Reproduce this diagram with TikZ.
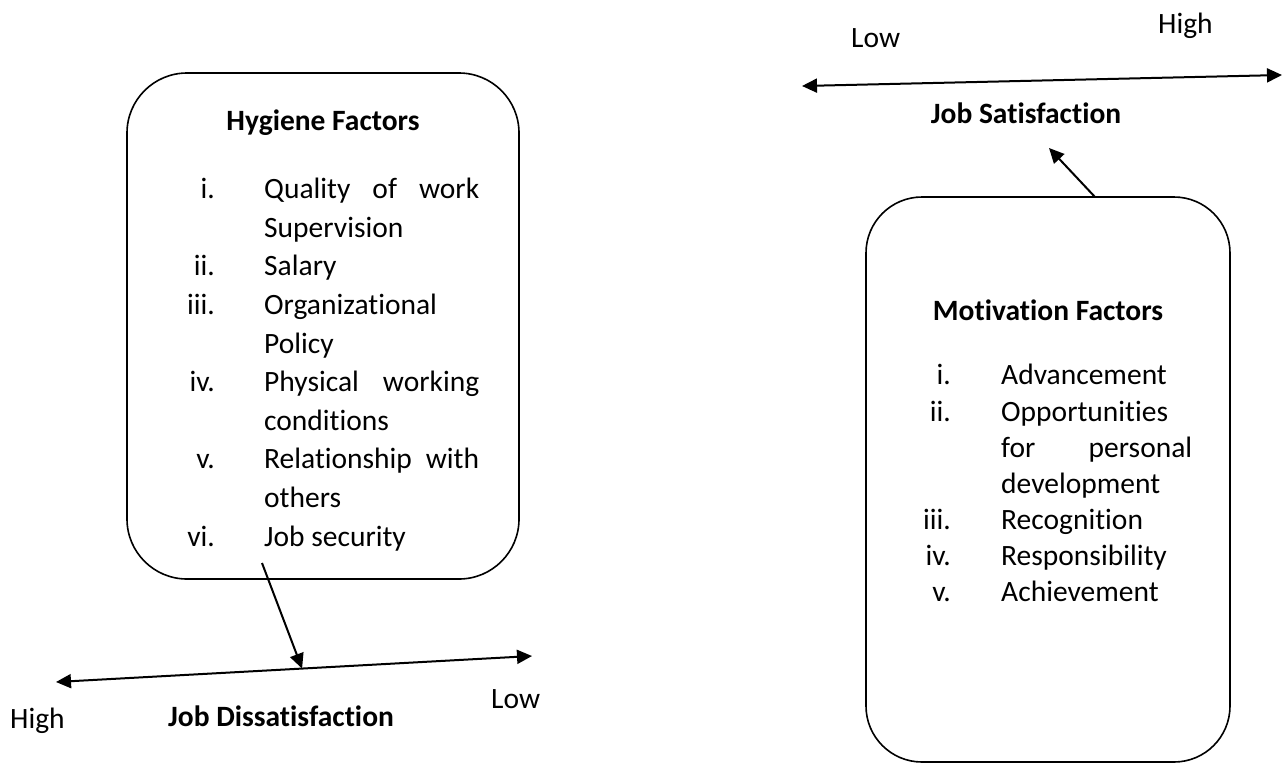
\documentclass[tikz,border=0pt]{standalone}
\usepackage{fontspec}
\setmainfont{Carlito}[Ligatures=NoCommon]
\usetikzlibrary{arrows.meta,calc}
\newcommand\tiNL{t\kern0pt i}
\tikzset{
  fbox/.style={draw, line width=1.6pt, rounded corners=60pt, inner sep=0pt},
  txt/.style={anchor=base west, inner sep=0pt, font=\fontsize{29.5}{35}\selectfont},
  num/.style={anchor=base east, inner sep=0pt, font=\fontsize{29.5}{35}\selectfont},
  ttl/.style={anchor=base, inner sep=0pt, font=\fontsize{29.5}{35}\selectfont\bfseries},
  axis/.style={line width=2pt, {Triangle[length=15pt,width=14pt]}-{Triangle[length=15pt,width=14pt]}},
  link/.style={line width=2pt, -{Triangle[length=15pt,width=14pt]}}
}
\begin{document}
\begin{tikzpicture}[x=1pt,y=-1pt]
\useasboundingbox (0,0) rectangle (1282,764);
% boxes
\node[fbox, minimum width=392pt, minimum height=506pt] (hyg) at (323,326) {};
\node[fbox, rounded corners=56pt, minimum width=364pt, minimum height=565pt] (mot) at (1048,479.5) {};
% hygiene content
\node[ttl] (ht) at (323,130) {Hygiene Factors};
\node[num] (h1) at (215,198) {i.};
\node[txt] (h1a) at (264,198) {\hbox to 215pt{Quality\hfill of\hfill work}};
\node[txt] (h1b) at (264,237) {Supervision};
\node[num] (h2) at (215,275) {ii.};
\node[txt] (h2a) at (264,275) {Salary};
\node[num] (h3) at (215,314) {iii.};
\node[txt] (h3a) at (264,314) {Organiza\tiNL onal};
\node[txt] (h3b) at (264,353) {Policy};
\node[num] (h4) at (215,391) {iv.};
\node[txt] (h4a) at (264,391) {\hbox to 215pt{Physical\hfill working}};
\node[txt] (h4b) at (264,430) {condi\tiNL ons};
\node[num] (h5) at (215,468) {v.};
\node[txt] (h5a) at (264,468) {\hbox to 215pt{Rela\tiNL onship\hfill with}};
\node[txt] (h5b) at (264,507) {others};
\node[num] (h6) at (215,546) {vi.};
\node[txt] (h6a) at (264,546) {Job security};
% motivation content
\node[ttl] (mt) at (1048,320) {Motiva\tiNL on Factors};
\node[num] (m1) at (951,384) {i.};
\node[txt] (m1a) at (1001,384) {Advancement};
\node[num] (m2) at (951,421) {ii.};
\node[txt] (m2a) at (1001,421) {Opportuni\tiNL es};
\node[txt] (m2b) at (1001,457) {\hbox to 191pt{for\hfill personal}};
\node[txt] (m2c) at (1001,493) {development};
\node[num] (m3) at (951,529) {iii.};
\node[txt] (m3a) at (1001,529) {Recogni\tiNL on};
\node[num] (m4) at (951,565) {iv.};
\node[txt] (m4a) at (1001,565) {Responsibility};
\node[num] (m5) at (951,601) {v.};
\node[txt] (m5a) at (1001,601) {Achievement};
% dissatisfaction axis
\coordinate (dH) at (56,682);
\coordinate (dL) at (532,656);
\draw[axis] (dH) -- (dL);
\coordinate (hs) at (262,563);
\coordinate (dm) at ($(dH)!0.517!(dL)$);
\draw[link] (hs) -- (dm);
\node[txt] (dhigh) at (10,728) {High};
\node[txt] (dlow) at (491,708) {Low};
\node[ttl] (dlab) at (281,726) {Job Dissa\tiNL sfac\tiNL on};
% satisfaction axis
\coordinate (sL) at (802,86);
\coordinate (sH) at (1282,75);
\draw[axis] (sL) -- (sH);
\node[txt] (slow) at (851,47) {Low};
\node[txt] (shigh) at (1158,33) {High};
\node[ttl] (slab) at (1026,123) {Job Sa\tiNL sfac\tiNL on};
\coordinate (ms) at (1095,197);
\coordinate (se) at (1049,148);
\draw[link] (ms) -- (se);
\end{tikzpicture}
\end{document}
